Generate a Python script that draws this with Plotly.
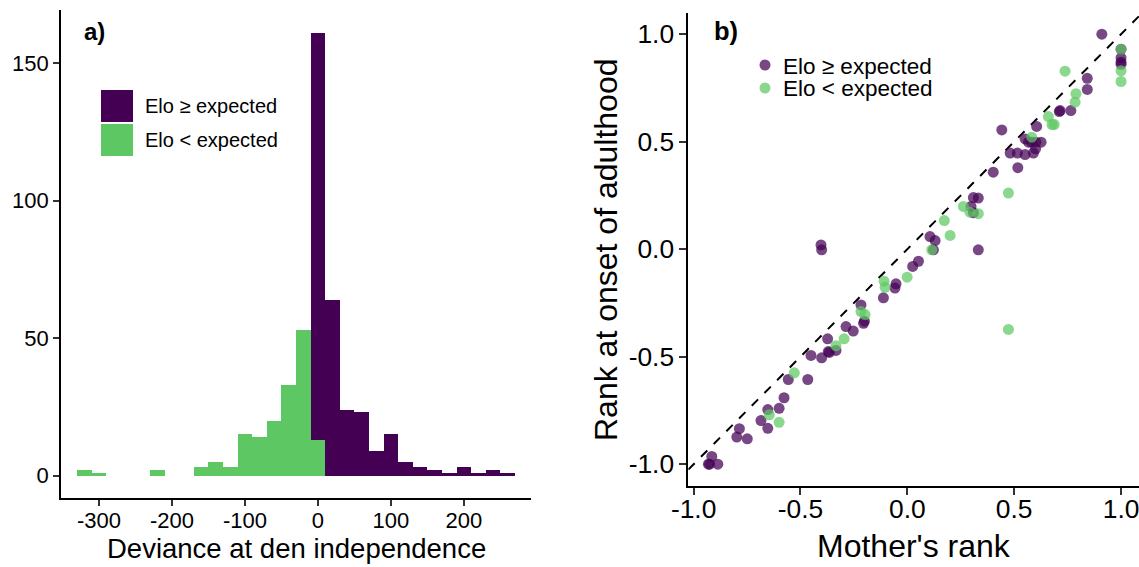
import plotly.graph_objects as go

# ---------------- data ----------------
bin_centers = [-320, -300, -280, -260, -240, -220, -200, -180, -160, -140, -120, -100,
               -80, -60, -40, -20, 0, 20, 40, 60, 80, 100, 120, 140, 160, 180, 200,
               220, 240, 260]
counts_below = [2, 1, 0, 0, 0, 2, 0, 0, 3, 5, 3, 15, 14, 20, 33, 53, 13,
                0, 0, 0, 0, 0, 0, 0, 0, 0, 0, 0, 0, 0]
counts_above = [0, 0, 0, 0, 0, 0, 0, 0, 0, 0, 0, 0, 0, 0, 0, 0, 148,
                64, 24, 23, 9, 15, 5, 3, 2, 1, 3, 1, 2, 1]
bin_width = 20

mother_hi = [0.91, 1.0, 1.0, 1.0, 1.0, 0.842, 0.842, 0.765, 0.711, 0.715, 0.605, 0.442,
             0.551, 0.567, 0.582, 0.602, 0.626, 0.60, 0.481, 0.515, 0.551, 0.59, 0.517,
             0.402, 0.309, 0.332, 0.298, 0.309, 0.106, 0.13, 0.122, 0.332, -0.404, -0.401,
             0.052, 0.025, -0.053, -0.058, -0.112, -0.217, -0.201, -0.205, -0.287, -0.253,
             -0.373, -0.37, -0.365, -0.334, -0.451, -0.401, -0.557, -0.466, -0.577, -0.6,
             -0.653, -0.685, -0.653, -0.786, -0.798, -0.749, -0.915, -0.931, -0.925, -0.887]
adult_hi = [1.0, 0.93, 0.89, 0.87, 0.86, 0.795, 0.743, 0.645, 0.64, 0.645, 0.571, 0.555,
            0.513, 0.498, 0.498, 0.498, 0.498, 0.467, 0.447, 0.447, 0.44, 0.447, 0.379,
            0.358, 0.24, 0.238, 0.199, 0.169, 0.059, 0.04, -0.003, -0.003, 0.02, -0.003,
            -0.056, -0.08, -0.161, -0.181, -0.226, -0.259, -0.335, -0.345, -0.36, -0.381,
            -0.417, -0.476, -0.48, -0.471, -0.494, -0.505, -0.606, -0.606, -0.691, -0.74,
            -0.746, -0.797, -0.833, -0.835, -0.874, -0.882, -0.964, -1.0, -1.0, -1.0]

mother_lo = [1.0, 1.0, 1.0, 0.738, 0.789, 0.785, 0.66, 0.677, 0.687, 0.582, 0.473, 0.262,
             0.293, 0.332, 0.173, 0.2, 0.114, -0.001, -0.109, -0.104, -0.217, -0.198,
             -0.296, 0.473, -0.334, -0.529, -0.646, -0.6]
adult_lo = [0.93, 0.83, 0.78, 0.828, 0.723, 0.684, 0.617, 0.58, 0.58, 0.521, 0.261, 0.199,
            0.172, 0.165, 0.133, 0.064, -0.003, -0.13, -0.149, -0.177, -0.29, -0.304,
            -0.417, -0.373, -0.449, -0.575, -0.77, -0.805]

hist_xticks = [-300, -200, -100, 0, 100, 200]
hist_xticklabels = ["-300", "-200", "-100", "0", "100", "200"]
hist_yticks = [0, 50, 100, 150]
rank_ticks = [-1.0, -0.5, 0.0, 0.5, 1.0]
rank_ticklabels = ["-1.0", "-0.5", "0.0", "0.5", "1.0"]

label_hi = "Elo \u2265 expected"
label_lo = "Elo < expected"

PURPLE = "#440154"
GREEN = "#5DC863"
FONT = "Liberation Sans, Arial, Helvetica, sans-serif"

W, H = 1139, 567
def fx(px):
    return px / W
def fy(py):
    return 1 - py / H

fig = go.Figure()

# ---------------- histogram ----------------
fig.add_trace(go.Bar(x=bin_centers, y=counts_below, width=bin_width,
                     marker=dict(color=GREEN, line=dict(width=0)),
                     name=label_lo, xaxis="x", yaxis="y", showlegend=False))
fig.add_trace(go.Bar(x=bin_centers, y=counts_above, width=bin_width,
                     marker=dict(color=PURPLE, line=dict(width=0)),
                     name=label_hi, xaxis="x", yaxis="y", showlegend=False))

# ---------------- scatter ----------------
fig.add_shape(type="line", xref="x2", yref="y2", x0=-1.025, y0=-1.025, x1=1.084, y1=1.084,
              line=dict(color="black", width=2, dash="dash"), layer="below")
fig.add_trace(go.Scatter(x=mother_hi, y=adult_hi, mode="markers", name=label_hi,
                         marker=dict(color=PURPLE, size=11, opacity=0.72, line=dict(width=0)),
                         xaxis="x2", yaxis="y2", showlegend=False))
fig.add_trace(go.Scatter(x=mother_lo, y=adult_lo, mode="markers", name=label_lo,
                         marker=dict(color=GREEN, size=11, opacity=0.72, line=dict(width=0)),
                         xaxis="x2", yaxis="y2", showlegend=False))

axis_common = dict(showgrid=False, zeroline=False, showline=True, linecolor="black",
                   linewidth=1.8, ticks="outside", tickcolor="#333333", tickwidth=1.8,
                   automargin=False)

fig.update_layout(
    width=W, height=H,
    margin=dict(l=0, r=0, t=0, b=0),
    paper_bgcolor="white", plot_bgcolor="white",
    barmode="stack", bargap=0,
    font=dict(family=FONT, color="black"),
    xaxis=dict(domain=[fx(61), fx(531)], range=[-352, 292], tickvals=hist_xticks,
               ticktext=hist_xticklabels, ticklabelstandoff=-4,
               ticklen=6, tickfont=dict(size=22, color="black"), anchor="y", **axis_common),
    yaxis=dict(domain=[fy(498), fy(10)], range=[-8.1, 169.3], tickvals=hist_yticks,
               ticklen=6, tickfont=dict(size=22, color="black"), anchor="x", **axis_common),
    xaxis2=dict(domain=[fx(688.3), 1.0], range=[-1.025, 1.084], tickvals=rank_ticks,
                ticktext=rank_ticklabels, ticklen=7, tickfont=dict(size=26.4, color="black"),
                ticklabelstandoff=-8, ticklabeloverflow="allow",
                anchor="y2", **axis_common),
    yaxis2=dict(domain=[fy(485.7), fy(12.7)], range=[-1.1, 1.1], tickvals=rank_ticks,
                ticktext=rank_ticklabels, ticklen=7, tickfont=dict(size=26.4, color="black"),
                anchor="x2", **axis_common),
)

# axis titles
fig.add_annotation(text="Deviance at den independence", xref="paper", yref="paper",
                   x=fx(296), y=fy(548), xanchor="center", yanchor="middle",
                   showarrow=False, font=dict(size=27.5, family=FONT, color="black"))
fig.add_annotation(text="Mother's rank", xref="paper", yref="paper",
                   x=fx(914), y=fy(546), xanchor="center", yanchor="middle",
                   showarrow=False, font=dict(size=32, family=FONT, color="black"))
fig.add_annotation(text="Rank at onset of adulthood", xref="paper", yref="paper",
                   x=fx(606), y=fy(250), xanchor="center", yanchor="middle", textangle=-90,
                   showarrow=False, font=dict(size=32, family=FONT, color="black"))

# panel labels
fig.add_annotation(text="<b>a)</b>", xref="paper", yref="paper", x=fx(82), y=fy(31),
                   xanchor="left", yanchor="middle", showarrow=False,
                   font=dict(size=24, family=FONT, color="black"))
fig.add_annotation(text="<b>b)</b>", xref="paper", yref="paper", x=fx(712), y=fy(31),
                   xanchor="left", yanchor="middle", showarrow=False,
                   font=dict(size=25.5, family=FONT, color="black"))

# histogram legend (keys)
fig.add_shape(type="rect", xref="paper", yref="paper", x0=fx(101), x1=fx(133),
              y0=fy(122), y1=fy(90), fillcolor=PURPLE, line=dict(width=0))
fig.add_shape(type="rect", xref="paper", yref="paper", x0=fx(101), x1=fx(133),
              y0=fy(156), y1=fy(124), fillcolor=GREEN, line=dict(width=0))
fig.add_annotation(text=label_hi, xref="paper", yref="paper", x=fx(143), y=fy(106),
                   xanchor="left", yanchor="middle", showarrow=False,
                   font=dict(size=20, family=FONT, color="black"))
fig.add_annotation(text=label_lo, xref="paper", yref="paper", x=fx(143), y=fy(140),
                   xanchor="left", yanchor="middle", showarrow=False,
                   font=dict(size=20, family=FONT, color="black"))

# scatter legend (keys)
r = 5.5
fig.add_shape(type="circle", xref="paper", yref="paper", x0=fx(765 - r), x1=fx(765 + r),
              y0=fy(65 + r), y1=fy(65 - r), fillcolor=PURPLE, opacity=0.72, line=dict(width=0))
fig.add_shape(type="circle", xref="paper", yref="paper", x0=fx(765 - r), x1=fx(765 + r),
              y0=fy(88 + r), y1=fy(88 - r), fillcolor=GREEN, opacity=0.72, line=dict(width=0))
fig.add_annotation(text=label_hi, xref="paper", yref="paper", x=fx(781), y=fy(66),
                   xanchor="left", yanchor="middle", showarrow=False,
                   font=dict(size=22.5, family=FONT, color="black"))
fig.add_annotation(text=label_lo, xref="paper", yref="paper", x=fx(781), y=fy(89),
                   xanchor="left", yanchor="middle", showarrow=False,
                   font=dict(size=22.5, family=FONT, color="black"))

fig.write_html("out.html", config={"displayModeBar": False},
               post_script="document.body.style.margin='0';document.body.style.padding='0';")
